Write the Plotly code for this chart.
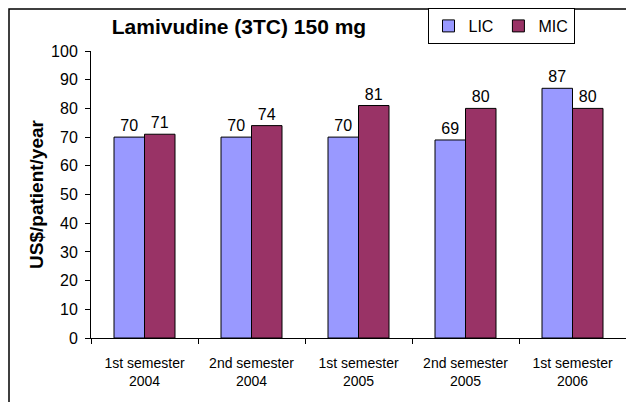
import plotly.graph_objects as go

# chart data
categories = ["1st semester<br>2004", "2nd semester<br>2004", "1st semester<br>2005",
              "2nd semester<br>2005", "1st semester<br>2006"]
lic = [70, 70, 70, 69, 87]
mic = [71, 74, 81, 80, 80]

font_main = "Liberation Sans, Arial, sans-serif"

# page body adds 8px margin, so the figure is sized to fit the window
W, H = 626, 394
ml, mr, mt, mb = 83, 8, 43, 64
pw, ph = W - ml - mr, H - mt - mb

fig = go.Figure()
fig.add_trace(go.Bar(x=categories, y=lic, name="LIC", marker_color="#9999FF",
                     marker_line=dict(color="black", width=1),
                     text=lic, textposition="outside", cliponaxis=False,
                     textfont=dict(size=16, color="black")))
fig.add_trace(go.Bar(x=categories, y=mic, name="MIC", marker_color="#993366",
                     marker_line=dict(color="black", width=1),
                     text=mic, textposition="outside", cliponaxis=False,
                     textfont=dict(size=16, color="black")))

fig.update_layout(
    width=W, height=H,
    margin=dict(l=ml, r=mr, t=mt, b=mb, autoexpand=False),
    paper_bgcolor="white", plot_bgcolor="white",
    font=dict(family=font_main, color="black", size=15),
    barmode="group", bargap=0.43, bargroupgap=0,
    title=dict(text="<b>Lamivudine (3TC) 150 mg</b>", x=(239 - 8) / W, xanchor="center",
               xref="container", y=1 - (27 - 8) / H, yanchor="middle",
               font=dict(size=21)),
    legend=dict(orientation="h", x=(501 - 8) / W, y=1.0, xanchor="center", yanchor="top",
                xref="container", yref="container",
                bordercolor="black", borderwidth=1, bgcolor="white",
                font=dict(size=16), itemwidth=30, tracegroupgap=0),
    showlegend=True,
    shapes=[dict(type="rect", xref="paper", yref="paper",
                 x0=-(ml - 1) / pw, x1=1 + 20 / pw, y0=-(mb + 20) / ph, y1=1 + (mt - 1) / ph,
                 line=dict(color="black", width=1.5))],
)
fig.update_yaxes(range=[0, 100], dtick=10, showline=True, linecolor="black",
                 ticks="outside", ticklen=5, tickcolor="black", showgrid=False,
                 zeroline=False, tickfont=dict(size=16), ticklabelstandoff=4,
                 title=dict(text="<b>US$/patient/year</b>", font=dict(size=19),
                            standoff=2))
fig.update_xaxes(showline=True, linecolor="black", ticks="outside", ticklen=5,
                 tickcolor="black", tickson="boundaries", showgrid=False,
                 tickfont=dict(size=14), ticklabelstandoff=12)

fig.write_html("out.html")
